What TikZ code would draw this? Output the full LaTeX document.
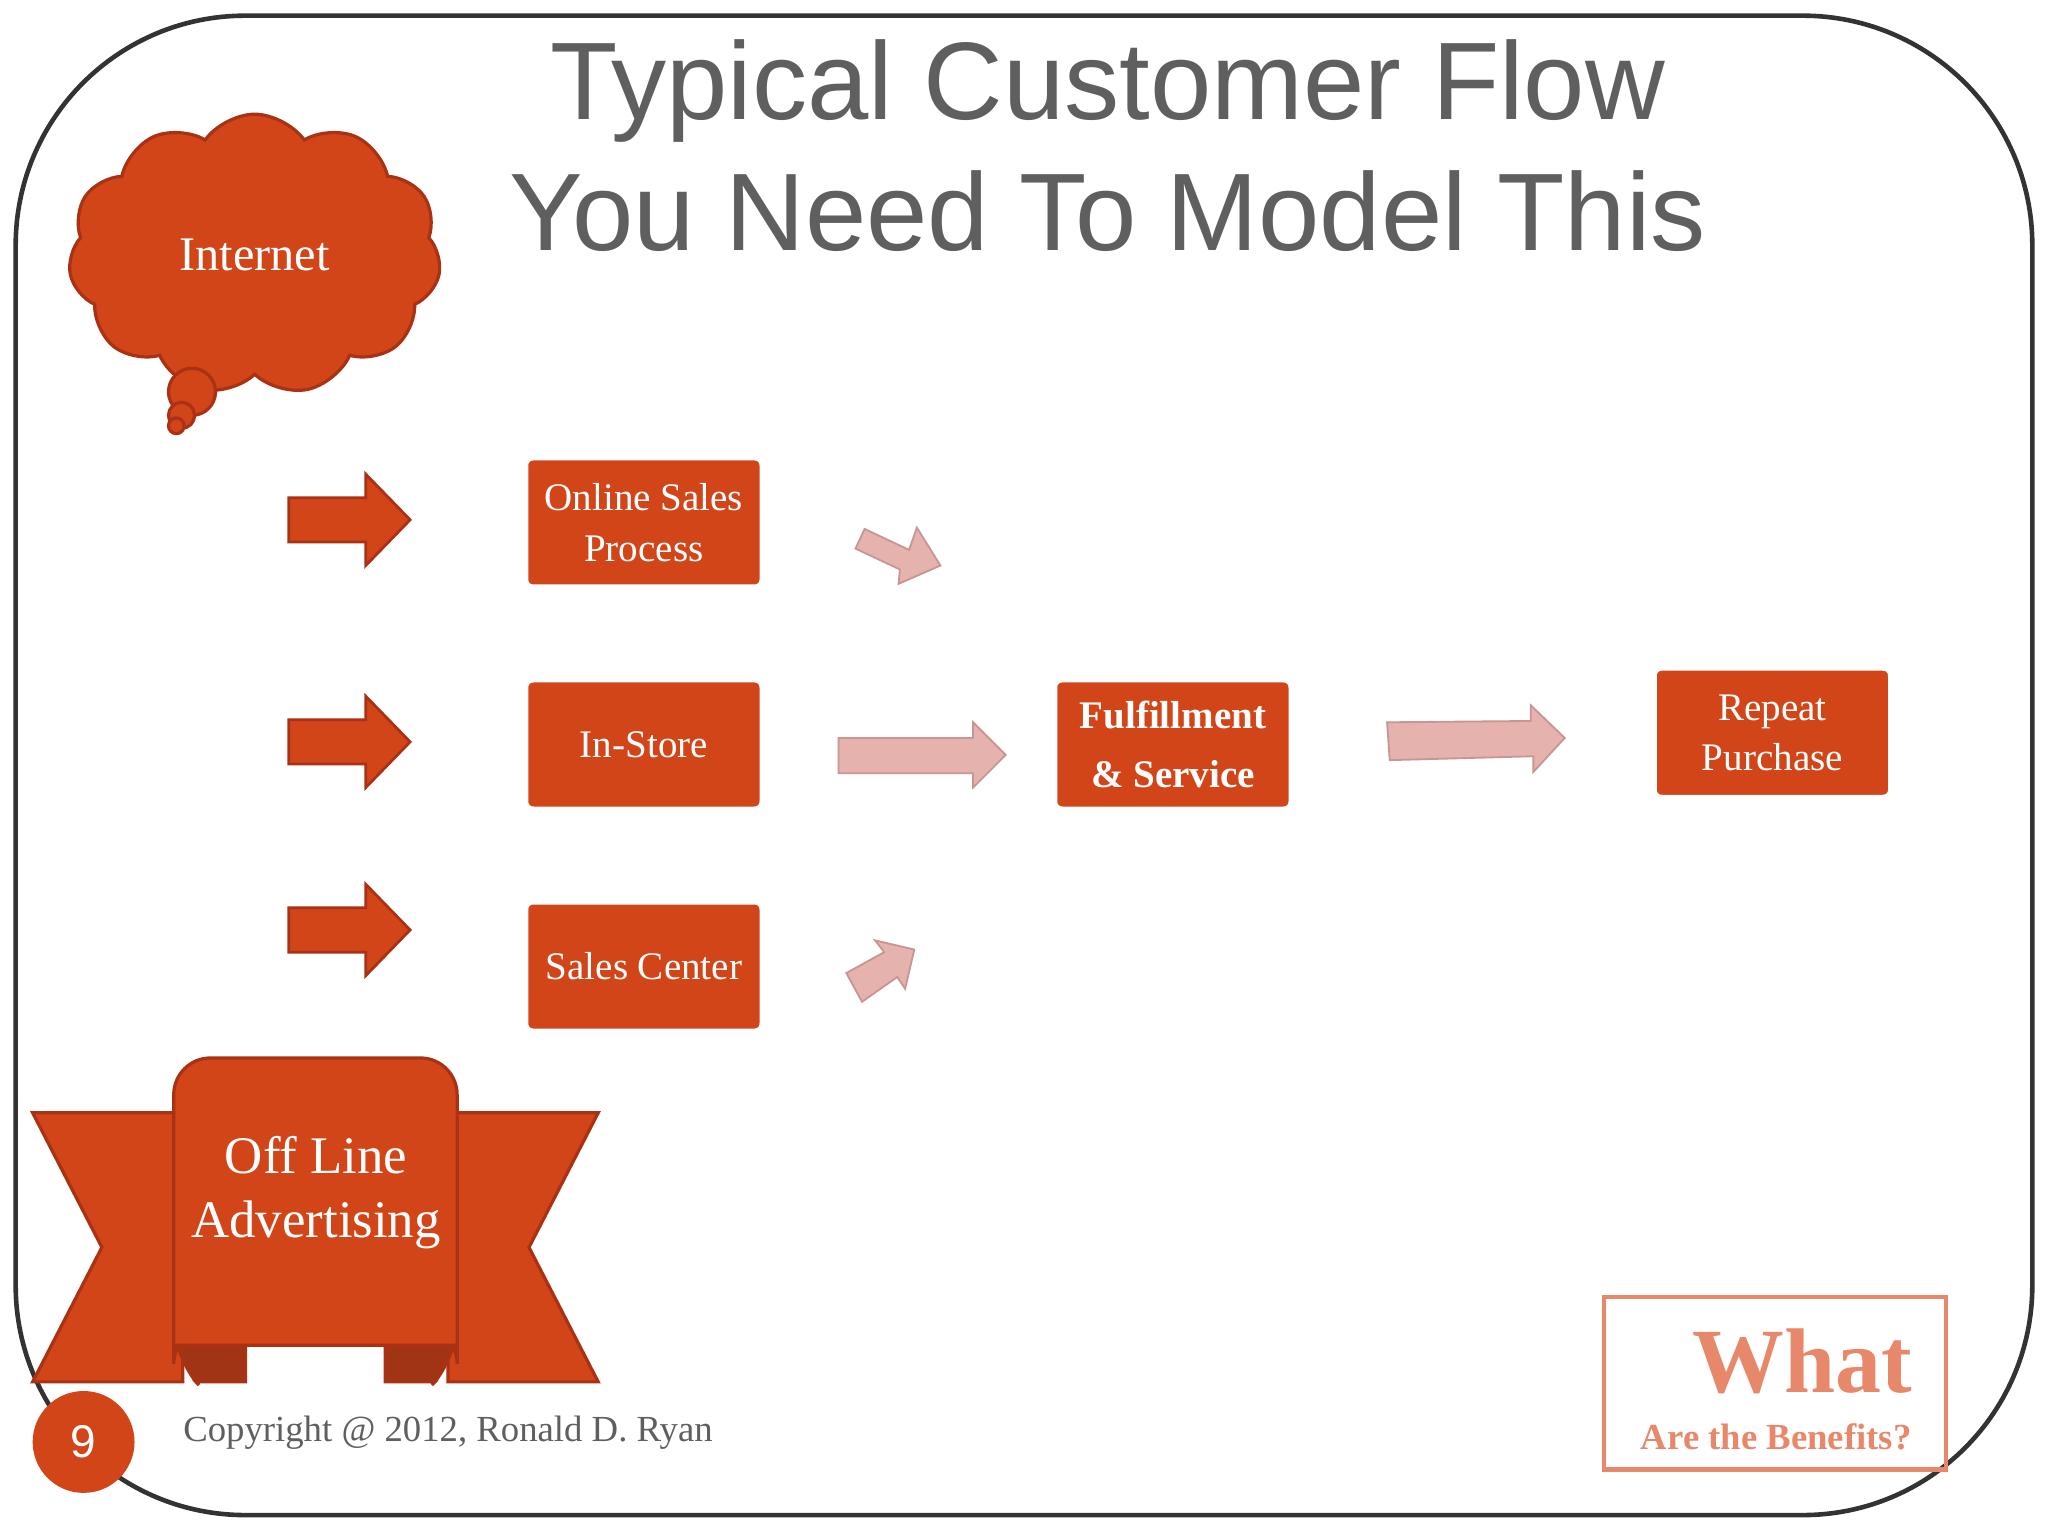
\documentclass[tikz,border=0pt]{standalone}
\usepackage{fontspec}
\setmainfont{Liberation Serif}
\newfontfamily\sansf{Liberation Sans}
\usetikzlibrary{shapes.symbols,shadows,calc}
\definecolor{rust}{RGB}{210,69,25}
\definecolor{rustdark}{RGB}{160,52,20}
\definecolor{rustline}{RGB}{170,50,20}
\definecolor{pinkar}{RGB}{230,178,174}
\definecolor{pinkline}{RGB}{200,150,146}
\definecolor{salmon}{RGB}{232,136,106}
\definecolor{titlegray}{RGB}{95,95,95}
\tikzset{
  box/.style={rectangle, fill=rust, draw=white, line width=6, rounded corners=4,
    minimum width=1.98cm, minimum height=1.16cm, text=white, align=center,
    font=\fontsize{8.5pt}{11pt}\selectfont,
    drop shadow={shadow xshift=0.3mm, shadow yshift=-0.6mm, opacity=0.35}},
  inarrow/.style={fill=rust, draw=rustline, line width=0.6},
  pinkarrow/.style={fill=pinkar, draw=pinkline, line width=0.4},
}
\begin{document}
\begin{tikzpicture}[x=0.01cm, y=-0.01cm]
\useasboundingbox (0,0) rectangle (1568,1176);
\fill[white] (0,0) rectangle (1568,1176);
\draw[line width=1, black!80] (12,12) [rounded corners=50] rectangle (1556,1160);

% title
\node (t1) at (848,70) {\sansf\color{titlegray}\fontsize{24pt}{28pt}\selectfont Typical Customer Flow};
\node (t2) at (848,162) {\sansf\color{titlegray}\fontsize{24pt}{28pt}\selectfont You Need To Model This};

% cloud
\node (cloud) [cloud, cloud puffs=11, cloud puff arc=110, aspect=1.3, fill=rust, draw=rustline,
  line width=0.7, minimum width=2.85cm, minimum height=2.15cm, text=white,
  font=\fontsize{10.5pt}{12pt}\selectfont] at (195,195) {Internet};
\draw[fill=rust, draw=rustline, line width=0.7] (147,300) circle (18);
\draw[fill=rust, draw=rustline, line width=0.7] (139,318) circle (10);
\draw[fill=rust, draw=rustline, line width=0.7] (135,326) circle (6);

% orange input arrows
\foreach \y/\n in {398/a1,568/a2,712/a3}{
  \draw[inarrow] (221,\y-17) -- (280,\y-17) -- (280,\y-35) -- (314,\y) -- (280,\y+35)
    -- (280,\y+17) -- (221,\y+17) -- cycle;
}

% boxes
\node (online) [box] at (493,400) {Online Sales\\Process};
\node (instore) [box] at (493,570) {In-Store};
\node (salesc) [box] at (493,740) {Sales Center};
\node (fulfil) [box, font=\bfseries\fontsize{8.5pt}{13pt}\selectfont] at (898,570) {Fulfillment\\\& Service};
\node (repeat) [box] at (1357,561) {Repeat\\Purchase};

% pink arrows
\draw[pinkarrow] (655,420) -- (662,405) -- (696,421) -- (702,404) -- (720,433) -- (688,447) -- (689,436) -- cycle;
\draw[pinkarrow] (642,565) -- (745,565) -- (745,553) -- (770,578) -- (745,603) -- (745,592) -- (642,592) -- cycle;
\draw[pinkarrow] (648,745) -- (677,729) -- (670,720) -- (700,727) -- (693,757) -- (687,748) -- (660,767) -- cycle;
\draw[pinkarrow] (1062,553) -- (1172,552) -- (1172,540) -- (1198,565) -- (1174,591) -- (1174,579) -- (1064,582) -- cycle;

% banner
\draw[fill=rust, draw=rustline, line width=0.7] (25,852) -- (140,852) -- (140,1058) -- (25,1058) -- (78,955) -- cycle;
\draw[fill=rust, draw=rustline, line width=0.7] (458,852) -- (343,852) -- (343,1058) -- (458,1058) -- (405,955) -- cycle;
\draw[fill=rustdark, draw=rustline, line width=0.7] (133,1016) -- (188,1016) -- (188,1058) -- (150,1058) [rounded corners=8] -- (133,1040) -- cycle;
\draw[fill=rustdark, draw=rustline, line width=0.7] (350,1016) -- (295,1016) -- (295,1058) -- (333,1058) [rounded corners=8] -- (350,1040) -- cycle;
\draw[fill=rust, draw=rustline, line width=0.7, rounded corners=8] (133,1035) -- (133,810) -- (350,810) -- (350,1035)
  [sharp corners] -- (350,1030) -- (133,1030);
\node (offline) [text=white, align=center, font=\fontsize{11.5pt}{14pt}\selectfont] at (242,913) {Off Line\\Advertising};

% page number and copyright
\fill[rust] (64,1104) circle (39);
\node (pnum) [text=white, font=\sansf\fontsize{10pt}{12pt}\selectfont] at (64,1104) {9};
\node (copy) [text=titlegray, font=\fontsize{8pt}{10pt}\selectfont] at (343,1097) {Copyright @ 2012, Ronald D. Ryan};

% what box
\draw[salmon, line width=1] (1228,993) rectangle (1490,1125);
\node (what) [anchor=east, text=salmon, font=\bfseries\fontsize{20pt}{24pt}\selectfont] at (1476,1042) {What};
\node (benef) [anchor=east, text=salmon, font=\bfseries\fontsize{8pt}{10pt}\selectfont] at (1476,1100) {Are the Benefits?};
\end{tikzpicture}
\end{document}
